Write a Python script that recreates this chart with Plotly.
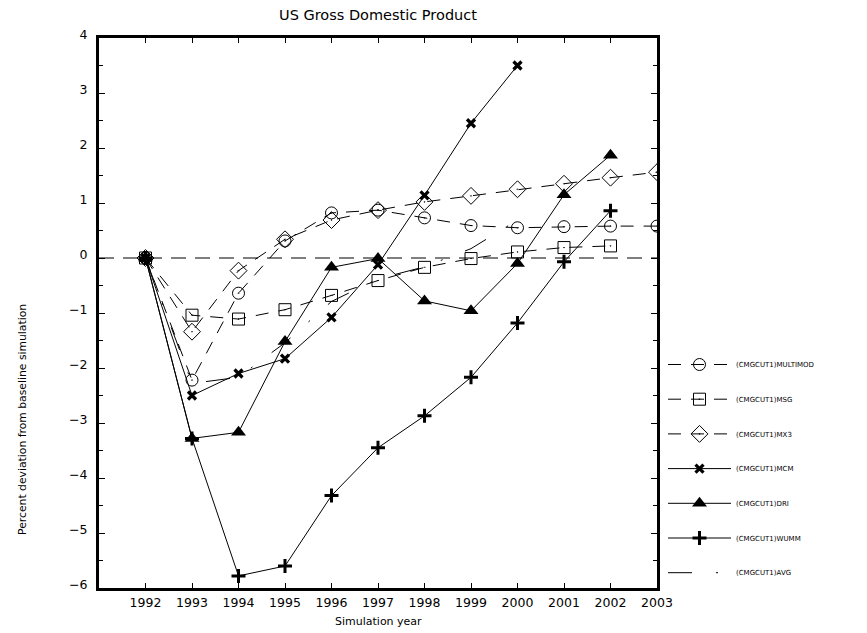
import plotly.graph_objects as go

years = [1992, 1993, 1994, 1995, 1996, 1997, 1998, 1999, 2000, 2001, 2002, 2003]
multimod = [0, -2.22, -0.64, 0.31, 0.82, 0.87, 0.73, 0.59, 0.55, 0.57, 0.58, 0.58]
msg = [0, -1.04, -1.11, -0.94, -0.68, -0.41, -0.17, -0.01, 0.11, 0.19, 0.22, None]
mx3 = [0, -1.34, -0.23, 0.34, 0.69, 0.87, 1.02, 1.13, 1.25, 1.35, 1.46, 1.56]
mcm = [0, -2.50, -2.10, -1.83, -1.08, -0.12, 1.14, 2.45, 3.50, None, None, None]
dri = [0, -3.28, -3.17, -1.52, -0.17, -0.01, -0.78, -0.96, -0.10, 1.15, 1.87, None]
wumm = [0, -3.28, -5.78, -5.60, -4.32, -3.45, -2.87, -2.17, -1.18, -0.07, 0.86, None]
avg = [0, -2.28, -2.17, -1.54, -0.79, -0.38, -0.16, 0.17, 0.69, None, None, None]

names = ["(CMGCUT1)MULTIMOD", "(CMGCUT1)MSG", "(CMGCUT1)MX3", "(CMGCUT1)MCM",
         "(CMGCUT1)DRI", "(CMGCUT1)WUMM", "(CMGCUT1)AVG"]
series = [multimod, msg, mx3, mcm, dri, wumm, avg]

styles = [
    dict(dash="13px,10px", symbol="circle-open-dot", size=12, lw=1.0, mlw=1.0),
    dict(dash="13px,10px", symbol="square-open-dot", size=12, lw=1.0, mlw=1.0),
    dict(dash="13px,10px", symbol="diamond-open-dot", size=13, lw=1.0, mlw=1.0),
    dict(dash="solid", symbol="x-thin-open", size=8, lw=1.0, mlw=3.2),
    dict(dash="solid", symbol="triangle-up", size=13, lw=1.0, mlw=0),
    dict(dash="solid", symbol="cross-thin-open", size=10, lw=1.0, mlw=3.0),
    dict(dash="24px,24px,2px,24px", symbol=None, size=0, lw=1.0, mlw=0),
]

fig = go.Figure()
for i, (nm, vals, st) in enumerate(zip(names, series, styles)):
    mode = "lines+markers" if st["symbol"] else "lines"
    marker = dict(symbol=st["symbol"], size=st["size"], color="black",
                  line=dict(color="black", width=st["mlw"])) if st["symbol"] else None
    fig.add_trace(go.Scatter(
        x=years, y=vals, name=nm, mode=mode, legendgroup=f"g{i}",
        connectgaps=False,
        line=dict(color="black", width=st["lw"], dash=st["dash"]),
        marker=marker,
    ))

fig.add_shape(type="line", xref="x domain", yref="y", x0=0, x1=1, y0=0, y1=0,
              line=dict(color="#555555", width=1.5, dash="15px,9px"), layer="below")

font = "DejaVu Sans"
W, H = 867, 633
L, R, T, B = 99, 210, 38, 45
pw, ph = W - L - R, H - T - B
fig.update_layout(
    width=W, height=H,
    paper_bgcolor="white", plot_bgcolor="white",
    margin=dict(l=L, r=R, t=T, b=B, autoexpand=False),
    font=dict(family=font, color="black", size=11),
    title=dict(text="US Gross Domestic Product", x=(L + pw / 2) / W, xanchor="center",
               y=1 - 15 / H, yanchor="middle", font=dict(size=14.5, family=font)),
    showlegend=True,
    legend=dict(x=(663 - L) / pw, xanchor="left", y=1 - (350 - T) / ph, yanchor="top",
                itemwidth=63, tracegroupgap=15.7, font=dict(size=7, family=font),
                bgcolor="rgba(0,0,0,0)", borderwidth=0),
    xaxis=dict(range=[1991, 2003], tickvals=years, ticks="inside", ticklen=5, tickwidth=1,
               tickcolor="black", showline=True, linewidth=3, linecolor="black",
               mirror="allticks", showgrid=False, zeroline=False, automargin=False,
               tickfont=dict(size=12.5, family=font), ticklabelstandoff=1),
    yaxis=dict(range=[-6, 4], dtick=1, ticks="inside", ticklen=6, tickwidth=1,
               tickcolor="black", showline=True, linewidth=3, linecolor="black",
               mirror="allticks", showgrid=False, zeroline=False, automargin=False,
               minor=dict(dtick=0.5, ticks="inside", ticklen=4, tickwidth=1, tickcolor="black"),
               tickfont=dict(size=12.5, family=font), ticklabelstandoff=6, ticklabelshift=-3),
    annotations=[
        dict(text="Percent deviation from baseline simulation", xref="paper",
             yref="paper", x=(22 - L) / pw, y=(T + ph - 420) / ph, textangle=-90,
             showarrow=False, font=dict(size=10.8, family=font),
             xanchor="center", yanchor="middle"),
        dict(text="Simulation year", xref="paper", yref="paper",
             x=0.5, y=-(621 - T - ph) / ph, showarrow=False,
             font=dict(size=11, family=font), xanchor="center", yanchor="middle"),
    ],
)

fig.write_html("out.html", config={"displayModeBar": False},
               post_script="document.body.style.margin='0';document.body.style.overflow='hidden';")
